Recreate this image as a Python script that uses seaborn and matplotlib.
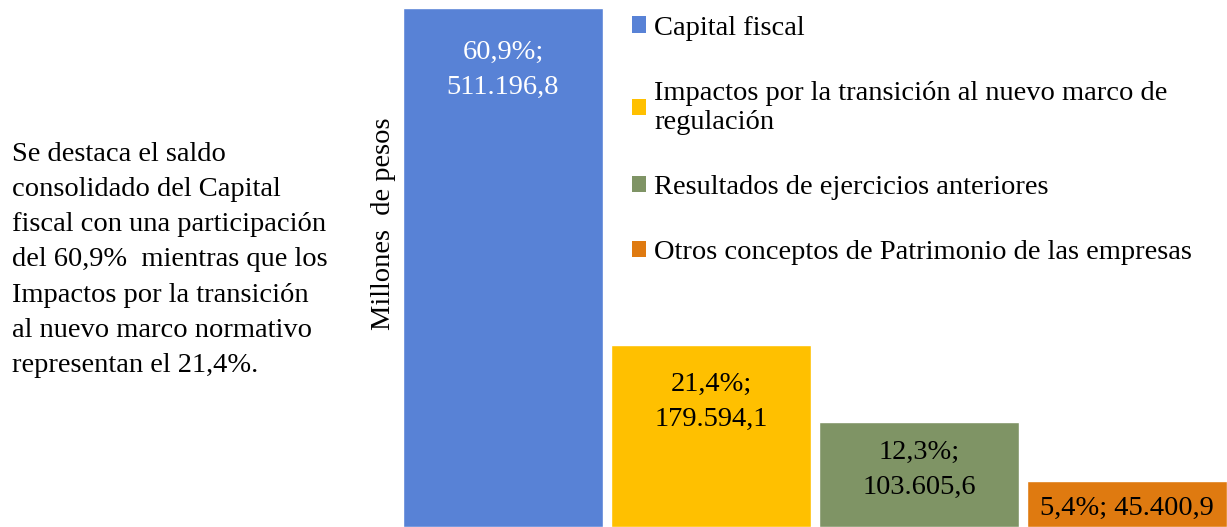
import seaborn as sns
import pandas as pd
from matplotlib import pyplot as plt
from matplotlib.patches import Patch

categorias = ['Capital fiscal',
              'Impactos por la transición al nuevo marco de\nregulación',
              'Resultados de ejercicios anteriores',
              'Otros conceptos de Patrimonio de las empresas']
valores = [511196.8, 179594.1, 103605.6, 45400.9]
etiquetas = ['60,9%;\n511.196,8', '21,4%;\n179.594,1', '12,3%;\n103.605,6', '5,4%; 45.400,9']
colores = ['#5882d6', '#ffc000', '#7f9465', '#df7a10']
color_texto = ['white', 'black', 'black', 'black']
# desplazamiento de las etiquetas desde el tope de cada barra (px)
desplaz = [35, 30, 21, 18]

nota = ('Se destaca el saldo\nconsolidado del Capital\nfiscal con una participación\n'
        'del 60,9%  mientras que los\nImpactos por la transición\nal nuevo marco normativo\n'
        'representan el 21,4%.')

sns.set_style('white')
plt.rcParams['font.family'] = ['Liberation Serif', 'DejaVu Serif']
plt.rcParams['text.color'] = 'black'
FS = 20.5

data = pd.DataFrame({'cat': categorias, 'val': valores})

fig = plt.figure(figsize=(12.27, 5.27), dpi=100)
ax = fig.add_axes([403 / 1227, 0, 824 / 1227, 519 / 527])
sns.barplot(data=data, x='cat', y='val', hue='cat', palette=colores,
            width=0.96, legend=False, ax=ax, saturation=1)
ax.set_xlim(-0.48, 3.48)
ax.set_ylim(0, max(valores))
ax.set_xticks([])
ax.set_yticks([])
ax.set_xlabel('')
ax.set_ylabel('')
for s in ax.spines.values():
    s.set_visible(False)

for i, (v, t, c, d) in enumerate(zip(valores, etiquetas, color_texto, desplaz)):
    ax.annotate(t, (i, v), xytext=(0, -(d - 3) * 0.72), textcoords='offset points',
                ha='center', va='top', fontsize=FS, color=c, linespacing=1.54)

handles = [Patch(facecolor=c, edgecolor='none') for c in colores]
fig.legend(handles, categorias, loc='upper left', bbox_to_anchor=(616 / 1227, 1.0),
           frameon=False, fontsize=FS, handlelength=0.5, handleheight=0.5,
           handletextpad=0.3, labelspacing=1.41, borderaxespad=0.15)

fig.text(383 / 1227, 1 - 224 / 527, 'Millones  de pesos', rotation=90,
         ha='center', va='center', fontsize=FS)
fig.text(12 / 1227, 1 - 260 / 527, nota, ha='left', va='center',
         fontsize=FS, linespacing=1.53)

fig.savefig('out.png', dpi=100)
